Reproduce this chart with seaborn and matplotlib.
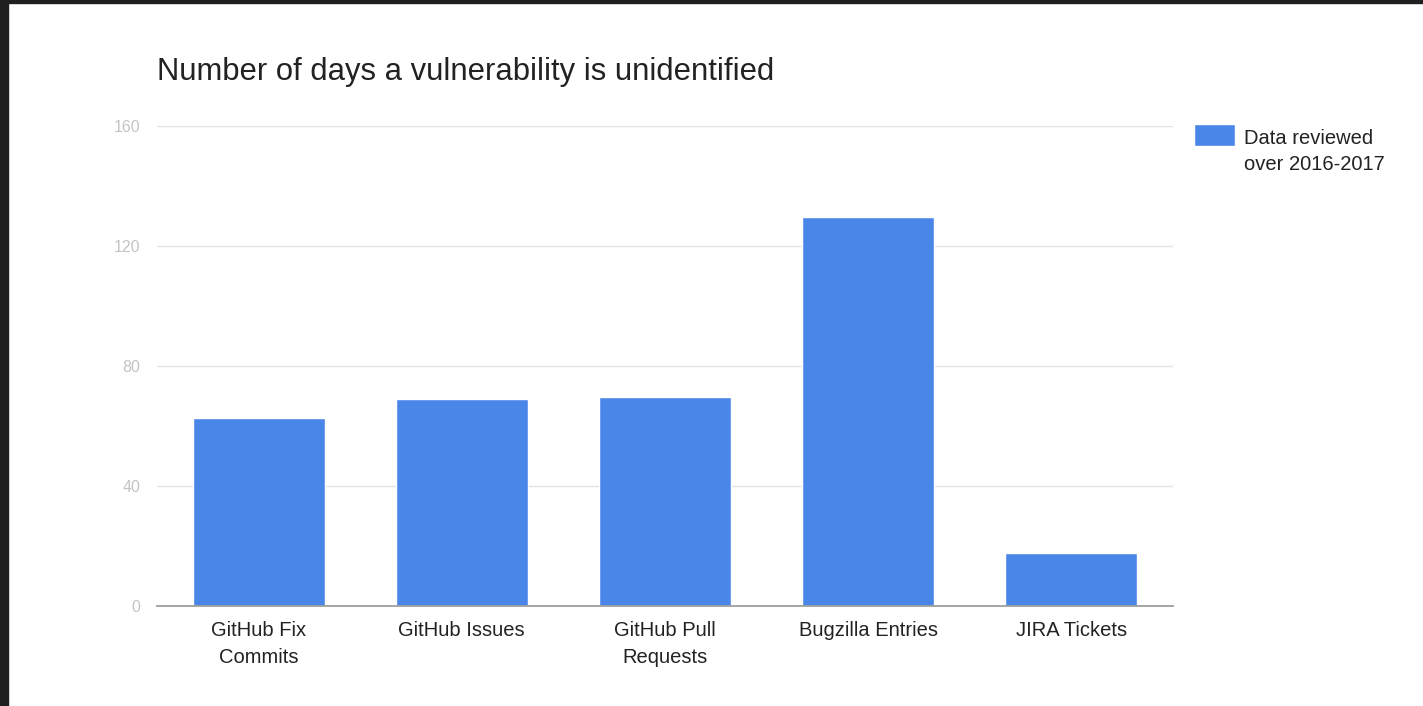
import matplotlib
matplotlib.use("Agg")
import matplotlib.pyplot as plt
import seaborn as sns
import pandas as pd
from matplotlib.patches import Rectangle

# Chart data
categories = ["GitHub Fix\nCommits", "GitHub Issues", "GitHub Pull\nRequests",
              "Bugzilla Entries", "JIRA Tickets"]
days = [62.5, 68.8, 69.5, 129.5, 17.5]
y_ticks = [0, 40, 80, 120, 160]
series_label = "Data reviewed\nover 2016-2017"
title = "Number of days a vulnerability is unidentified"

bar_color = "#4a86e8"

sns.set_theme(style="white")
plt.rcParams['font.family'] = ['Liberation Sans', 'DejaVu Sans']

df = pd.DataFrame({"source": categories, "days": days})

fig = plt.figure(figsize=(14.23, 7.06), dpi=100)
ax = fig.add_axes([0.1103, 0.1421, 0.714, 0.680])

sns.barplot(data=df, x="source", y="days", color=bar_color, width=0.65,
            saturation=1, label=series_label, ax=ax)

ax.set_ylim(0, 160)
ax.set_xlim(-0.5, len(categories) - 0.5)
ax.set_yticks(y_ticks)
ax.set_yticklabels([str(t) for t in y_ticks])
ax.set_xlabel("")
ax.set_ylabel("")

# gridlines and axes styling
ax.yaxis.grid(True, color="#e3e3e3", linewidth=1.0)
ax.set_axisbelow(True)
for side in ["top", "right", "left"]:
    ax.spines[side].set_visible(False)
ax.spines["bottom"].set_color("#9e9e9e")
ax.spines["bottom"].set_linewidth(1.3)
ax.spines["bottom"].set_zorder(5)

ax.tick_params(axis="y", length=0, pad=12, labelsize=11.5, labelcolor="#c4c4c4")
ax.tick_params(axis="x", length=0, pad=11, labelsize=14.5, labelcolor="#222222")
for lbl in ax.get_xticklabels():
    lbl.set_linespacing(1.55)
    lbl.set_verticalalignment("top")

ax.set_title(title, loc="left", fontsize=22.3, color="#222222", pad=32.5)

leg = ax.legend(loc="upper left", bbox_to_anchor=(1.0207, 0.993), frameon=False,
                fontsize=14.5, handlelength=2.05, handleheight=1.3,
                handletextpad=0.45, borderpad=0, borderaxespad=0,
                labelcolor="#222222")
for t in leg.get_texts():
    t.set_linespacing(1.45)
# put the swatch level with the first line of the label, a touch higher
for column in leg._legend_handle_box.get_children():
    for row in column.get_children():
        row.align = "top"
for h in leg.legend_handles:
    h.set_y(h.get_y() + 3.6)

# dark screenshot border on the left and top edges
fig.patches.append(Rectangle((0, 0), 8 / 1423, 1, transform=fig.transFigure,
                             color="#202020", zorder=10))
fig.patches.append(Rectangle((0, 1 - 3 / 706), 1, 3 / 706, transform=fig.transFigure,
                             color="#202020", zorder=10))

fig.savefig("out.png", dpi=100)
